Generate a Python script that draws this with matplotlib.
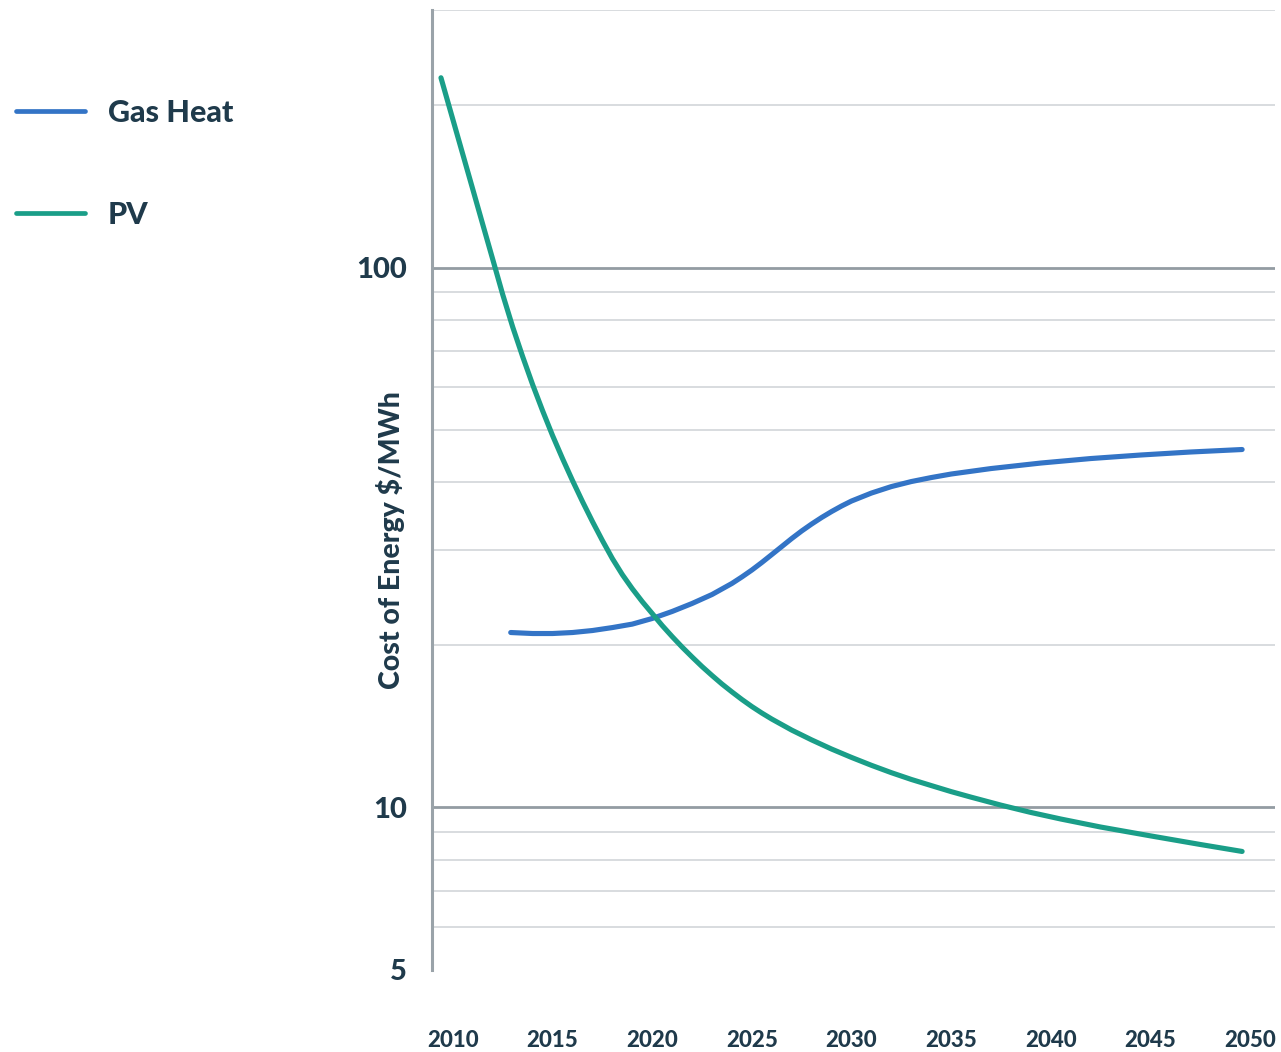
import matplotlib
matplotlib.use('Agg')
import matplotlib.pyplot as plt
from matplotlib.ticker import FixedLocator, NullFormatter

# values (log scale, $/MWh)
pv_years = [2009.4, 2010.0, 2010.5, 2011.0, 2011.5, 2012.0, 2012.5, 2013.0,
            2013.5, 2014.0, 2014.5, 2015.0, 2015.5, 2016.0, 2016.5, 2017.0,
            2017.5, 2018.0, 2018.5, 2019.0, 2019.5, 2020.0, 2020.5, 2021.0,
            2021.5, 2022.0, 2022.5, 2023.0, 2023.5, 2024.0, 2024.5, 2025.0,
            2025.5, 2026.0, 2027.0, 2028.0, 2029.0, 2030.0, 2031.0, 2032.0,
            2033.0, 2034.0, 2035.0, 2036.0, 2037.5, 2039.0, 2040.5, 2042.5,
            2045.0, 2047.5, 2049.6]
pv_cost = [224.7, 187.9, 161.9, 139.5, 120.1, 103.5, 89.1, 77.6,
           68.4, 60.7, 54.3, 48.85, 44.28, 40.32, 36.87, 33.86,
           31.22, 28.91, 27.0, 25.42, 24.06, 22.87, 21.73, 20.73,
           19.82, 19.0, 18.24, 17.56, 16.93, 16.37, 15.85, 15.38,
           14.96, 14.58, 13.91, 13.34, 12.83, 12.38, 11.97, 11.6,
           11.27, 10.98, 10.7, 10.45, 10.1, 9.79, 9.52, 9.20,
           8.86, 8.54, 8.29]

gas_years = [2012.9, 2014.0, 2015.0, 2016.0, 2017.0, 2018.0, 2019.0, 2020.0,
             2021.0, 2022.0, 2023.0, 2024.0, 2024.5, 2025.0, 2025.5, 2026.0,
             2026.5, 2027.0, 2027.5, 2028.0, 2028.5, 2029.0, 2029.5, 2030.0,
             2031.0, 2032.0, 2033.0, 2034.0, 2035.0, 2037.0, 2039.5, 2042.0,
             2044.5, 2047.0, 2049.6]
gas_cost = [21.09, 21.0, 21.0, 21.09, 21.27, 21.54, 21.86, 22.39,
            23.07, 23.87, 24.80, 26.0, 26.73, 27.53, 28.43, 29.41,
            30.43, 31.49, 32.52, 33.50, 34.44, 35.33, 36.17, 36.95,
            38.23, 39.30, 40.15, 40.84, 41.46, 42.44, 43.45, 44.29,
            44.96, 45.54, 46.03]

x_ticks = [2010, 2015, 2020, 2025, 2030, 2035, 2040, 2045, 2050]
y_ticks = [5, 10, 100]
minor_grid = [6, 7, 8, 9, 20, 30, 40, 50, 60, 70, 80, 90, 200, 300]

text_color = '#1f3a4b'
gas_color = '#3374c6'
pv_color = '#1a9e88'

plt.rcParams['font.family'] = ['Lato', 'DejaVu Sans']
plt.rcParams['font.weight'] = 'black'

fig = plt.figure(figsize=(12.81, 10.52), dpi=100)
ax = fig.add_axes([432 / 1281, 82 / 1052, 843 / 1281, 960 / 1052])

ax.plot(gas_years, gas_cost, color=gas_color, lw=3.7, solid_capstyle='round',
        solid_joinstyle='round', label='Gas Heat', zorder=3)
ax.plot(pv_years, pv_cost, color=pv_color, lw=3.7, solid_capstyle='round',
        solid_joinstyle='round', label='PV', zorder=3)

ax.set_yscale('log')
ax.set_ylim(5, 300)
ax.set_xlim(2008.95, 2051.25)

ax.set_xticks(x_ticks)
ax.set_xticklabels([str(t) for t in x_ticks])
ax.yaxis.set_major_locator(FixedLocator(y_ticks))
ax.set_yticklabels([str(t) for t in y_ticks])
ax.yaxis.set_minor_locator(FixedLocator(minor_grid))
ax.yaxis.set_minor_formatter(NullFormatter())

for v in minor_grid:
    ax.axhline(v, color='#d8dcdf', lw=1.4, zorder=1)
for v in [10, 100]:
    ax.axhline(v, color='#939ca2', lw=2.0, zorder=2)

ax.tick_params(axis='both', which='both', length=0)
ax.tick_params(axis='x', pad=43, labelsize=16, labelcolor=text_color)
ax.tick_params(axis='y', pad=18, labelsize=21, labelcolor=text_color)

for side in ['top', 'right', 'bottom']:
    ax.spines[side].set_visible(False)
ax.spines['left'].set_color('#9aa3a9')
ax.spines['left'].set_linewidth(2.2)

ax.set_ylabel('Cost of Energy $/MWh', fontsize=20.5, color=text_color,
              fontweight='black')
ax.yaxis.set_label_coords(-0.032, 0.448)

leg = ax.legend(loc='center left', bbox_to_anchor=(16 / 1281, 1 - 164 / 1052),
                bbox_transform=fig.transFigure, frameon=False, fontsize=22,
                handlelength=2.25, handletextpad=0.75, labelspacing=2.41,
                borderpad=0, borderaxespad=0)
for line in leg.get_lines():
    line.set_linewidth(3.4)
for t in leg.get_texts():
    t.set_color(text_color)

fig.savefig('out.png', dpi=100)
